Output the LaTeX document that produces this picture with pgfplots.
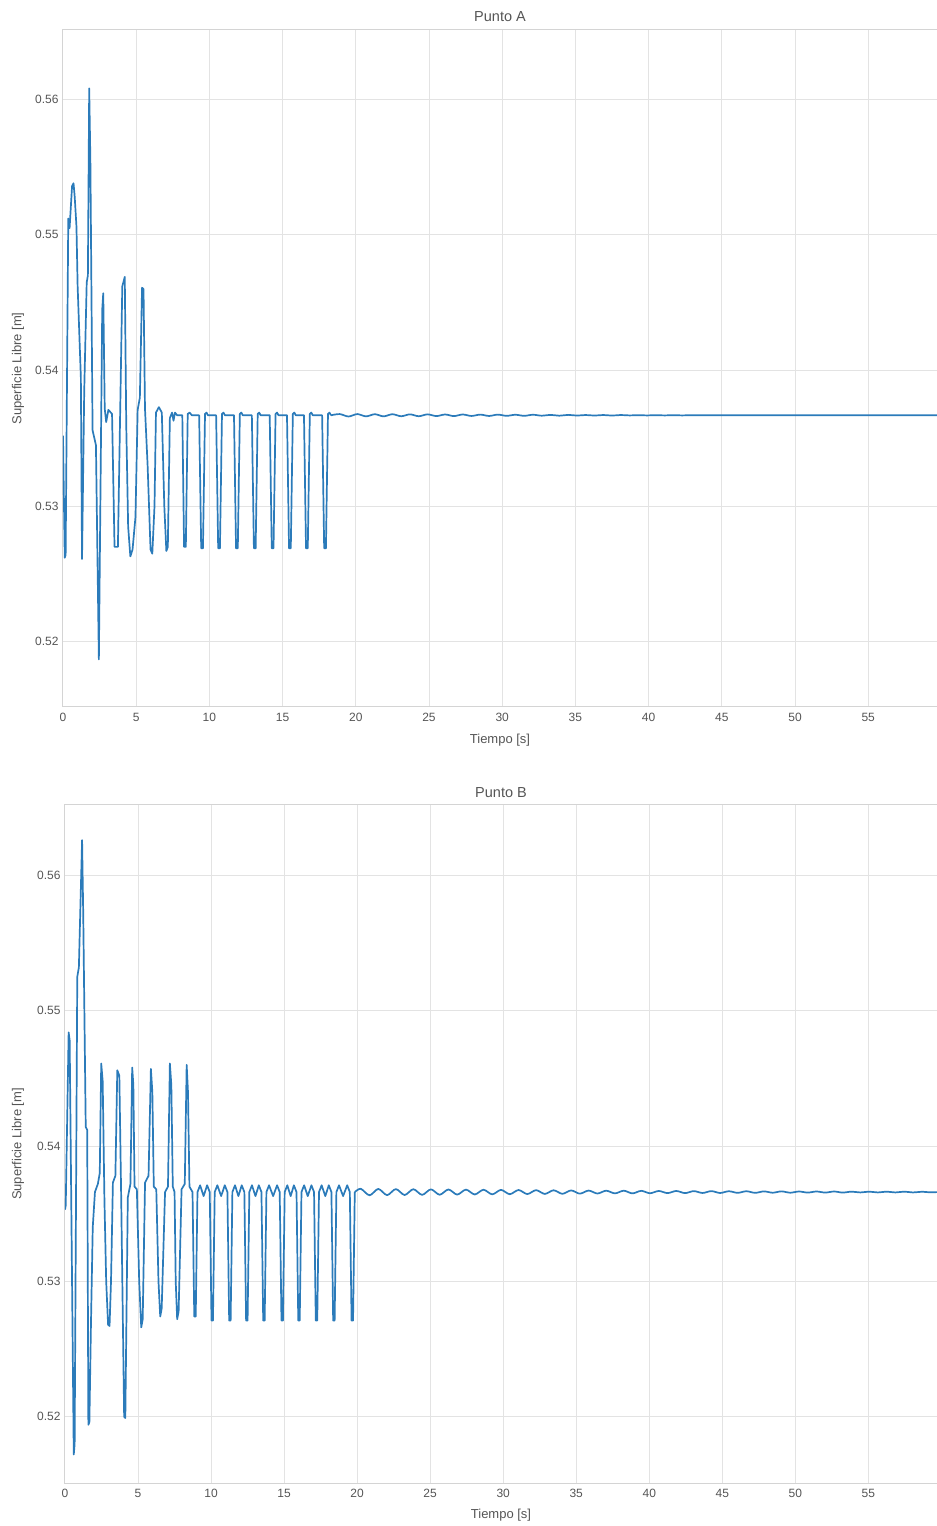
\documentclass[border=0pt]{standalone}
\usepackage{fontspec}
\setmainfont{Liberation Sans}
\usepackage{pgfplots}
\pgfplotsset{compat=1.18}
\definecolor{lineblue}{HTML}{2B7BBA}
\definecolor{gridc}{HTML}{E3E3E3}
\definecolor{spinec}{HTML}{D4D4D4}
\definecolor{txt}{HTML}{555555}
\pgfplotsset{
  myline/.style={draw=lineblue, line width=1.7pt, line join=round, mark=none},
  myax/.style={
    scale only axis, anchor=south west,
    xmin=0, xmax=59.7,
    xtick={0,5,10,15,20,25,30,35,40,45,50,55},
    xticklabels={0,5,10,15,20,25,30,35,40,45,50,55},
    ytick={0.52,0.53,0.54,0.55,0.56},
    yticklabels={0.52,0.53,0.54,0.55,0.56},
    /pgf/number format/assume math mode=true,
    major tick length=0pt,
    grid=major,
    grid style={draw=gridc, line width=1pt},
    axis line style={draw=spinec, line width=1pt},
    tick label style={font=\fontsize{12}{14}\selectfont, text=txt},
    xticklabel style={yshift=-3pt},
    yticklabel style={xshift=-1pt},
  }
}
\begin{document}
\begin{tikzpicture}[x=1pt,y=1pt]
\path[use as bounding box] (0pt,0pt) rectangle (937pt,1526pt);
% ---------------- Punto A ----------------
\begin{axis}[myax, at={(63pt,819pt)}, width=874pt, height=677pt,
  ymin=0.5152, ymax=0.5651,
  title={Punto A}, xlabel={Tiempo [s]}, ylabel={Superficie Libre [m]},
  every axis title/.style={at={(axis description cs:0.5,1)}, anchor=center, yshift=13pt, font=\fontsize{14.5}{17}\selectfont, text=txt},
  every axis x label/.style={at={(axis description cs:0.5,0)}, anchor=center, yshift=-33pt, font=\fontsize{13}{15}\selectfont, text=txt},
  every axis y label/.style={at={(axis description cs:-0.0515,0.5)}, anchor=center, rotate=90, font=\fontsize{13}{15}\selectfont, text=txt},
]
\addplot[myline] coordinates {
(0.00,0.5352)(0.12,0.5262)(0.18,0.5264)(0.36,0.5512)(0.45,0.5505)(0.62,0.5536)(0.72,0.5538)(0.80,0.5528)(0.92,0.5506)(1.00,0.5462)(1.22,0.5395)(1.30,0.5261)(1.45,0.5385)(1.62,0.5465)(1.70,0.5470)(1.79,0.5608)(1.87,0.5555)(2.02,0.5356)(2.25,0.5345)(2.45,0.5187)(2.68,0.5445)(2.75,0.5457)(2.85,0.5372)(2.95,0.5362)(3.10,0.5371)(3.35,0.5368)(3.52,0.5270)(3.75,0.5270)(3.90,0.5366)(4.05,0.5462)(4.22,0.5469)(4.32,0.5360)(4.45,0.5285)(4.60,0.5263)(4.75,0.5268)(4.95,0.5292)(5.10,0.5371)(5.25,0.5380)(5.40,0.5461)(5.50,0.5460)(5.60,0.5372)(5.78,0.5330)(5.98,0.5268)(6.10,0.5265)(6.25,0.5300)(6.35,0.5369)(6.55,0.5373)(6.75,0.5369)(6.92,0.5300)(7.06,0.5267)(7.16,0.5270)(7.30,0.5365)(7.45,0.5369)(7.55,0.5363)(7.65,0.5369)(7.80,0.5367)(8.15,0.5367)(8.27,0.5270)(8.39,0.5270)(8.52,0.5368)(8.65,0.5369)(8.80,0.5367)
(9.30,0.5367)(9.44,0.5269)(9.56,0.5269)(9.70,0.5368)(9.80,0.5369)(9.90,0.5367)
(10.46,0.5367)(10.60,0.5269)(10.72,0.5269)(10.86,0.5368)(10.96,0.5369)(11.06,0.5367)
(11.68,0.5367)(11.82,0.5269)(11.94,0.5269)(12.08,0.5368)(12.18,0.5369)(12.28,0.5367)
(12.90,0.5367)(13.04,0.5269)(13.16,0.5269)(13.30,0.5368)(13.40,0.5369)(13.50,0.5367)
(14.12,0.5367)(14.26,0.5269)(14.38,0.5269)(14.52,0.5368)(14.62,0.5369)(14.72,0.5367)
(15.30,0.5367)(15.44,0.5269)(15.56,0.5269)(15.70,0.5368)(15.80,0.5369)(15.90,0.5367)
(16.46,0.5367)(16.60,0.5269)(16.72,0.5269)(16.86,0.5368)(16.96,0.5369)(17.06,0.5367)
(17.70,0.5367)(17.84,0.5269)(17.96,0.5269)(18.10,0.5368)(18.20,0.5369)(18.30,0.5367)
};
\addplot[myline, smooth] coordinates {
(18.30,0.53670)(18.9,0.53679)(19.5,0.53661)(20.1,0.53679)(20.7,0.53662)(21.3,0.53678)(21.9,0.53662)(22.5,0.53678)(23.1,0.53663)(23.7,0.53677)(24.3,0.53663)(24.9,0.53677)(25.5,0.53664)(26.1,0.53676)(26.7,0.53664)(27.3,0.53676)(27.9,0.53665)(28.5,0.53675)(29.1,0.53665)(29.7,0.53675)(30.3,0.53666)(30.9,0.53674)(31.5,0.53666)(32.1,0.53674)(32.7,0.53667)(33.3,0.53673)(33.9,0.53667)(34.5,0.53673)(35.1,0.53668)(35.7,0.53672)(36.3,0.53668)(36.9,0.53672)(37.5,0.53668)(38.1,0.53672)(38.7,0.53669)(39.3,0.53671)(39.9,0.53669)(40.5,0.53671)(41.1,0.53669)(41.7,0.53671)(42.3,0.53669)(42.9,0.53671)(43.5,0.53670)(50.0,0.53670)(59.8,0.53670)
};
\end{axis}
% ---------------- Punto B ----------------
\begin{axis}[myax, at={(65pt,43pt)}, width=872pt, height=678pt,
  ymin=0.5151, ymax=0.5652,
  title={Punto B}, xlabel={Tiempo [s]}, ylabel={Superficie Libre [m]},
  every axis title/.style={at={(axis description cs:0.5,1)}, anchor=center, yshift=12pt, font=\fontsize{14.5}{17}\selectfont, text=txt},
  every axis x label/.style={at={(axis description cs:0.5,0)}, anchor=center, yshift=-32pt, font=\fontsize{13}{15}\selectfont, text=txt},
  every axis y label/.style={at={(axis description cs:-0.054,0.5)}, anchor=center, rotate=90, font=\fontsize{13}{15}\selectfont, text=txt},
]
\addplot[myline] coordinates {
(0.00,0.5353)(0.05,0.5356)(0.25,0.5484)(0.32,0.5478)(0.60,0.5172)(0.66,0.5180)(0.84,0.5525)(0.95,0.5532)(1.17,0.5626)(1.25,0.5570)(1.42,0.5414)(1.52,0.5412)(1.60,0.5194)(1.67,0.5196)(1.78,0.5270)(1.90,0.5340)(2.05,0.5366)(2.25,0.5372)(2.38,0.5380)(2.48,0.5461)(2.58,0.5448)(2.70,0.5360)(2.82,0.5300)(2.95,0.5268)(3.05,0.5267)(3.15,0.5300)(3.28,0.5373)(3.45,0.5378)(3.58,0.5456)(3.72,0.5452)(3.85,0.5360)(4.05,0.5200)(4.13,0.5199)(4.30,0.5362)(4.48,0.5372)(4.60,0.5458)(4.68,0.5445)(4.76,0.5370)(4.92,0.5368)(5.08,0.5300)(5.22,0.5266)(5.32,0.5272)(5.48,0.5373)(5.72,0.5378)(5.88,0.5457)(5.98,0.5440)(6.08,0.5370)(6.25,0.5368)(6.40,0.5300)(6.52,0.5274)(6.62,0.5280)(6.85,0.5366)(7.05,0.5370)(7.18,0.5461)(7.28,0.5445)(7.38,0.5370)(7.50,0.5366)(7.58,0.5300)(7.68,0.5272)(7.78,0.5278)(7.98,0.5368)(8.20,0.5372)(8.33,0.5460)(8.42,0.5440)(8.52,0.5370)(8.73,0.5366)
(8.85,0.5274)(8.95,0.5274)(9.07,0.5366)(9.25,0.5371)(9.49,0.5363)(9.73,0.5371)(9.91,0.5366)
(10.03,0.5271)(10.13,0.5271)(10.25,0.5366)(10.43,0.5371)(10.69,0.5363)(10.94,0.5371)(11.12,0.5366)
(11.24,0.5271)(11.34,0.5271)(11.46,0.5366)(11.64,0.5371)(11.87,0.5363)(12.10,0.5371)(12.28,0.5366)
(12.40,0.5271)(12.50,0.5271)(12.62,0.5366)(12.80,0.5371)(13.04,0.5363)(13.27,0.5371)(13.45,0.5366)
(13.57,0.5271)(13.67,0.5271)(13.79,0.5366)(13.97,0.5371)(14.25,0.5363)(14.52,0.5371)(14.70,0.5366)
(14.82,0.5271)(14.92,0.5271)(15.04,0.5366)(15.22,0.5371)(15.45,0.5363)(15.67,0.5371)(15.85,0.5366)
(15.97,0.5271)(16.07,0.5271)(16.19,0.5366)(16.37,0.5371)(16.62,0.5363)(16.87,0.5371)(17.05,0.5366)
(17.17,0.5271)(17.27,0.5271)(17.39,0.5366)(17.57,0.5371)(17.82,0.5363)(18.06,0.5371)(18.24,0.5366)
(18.36,0.5271)(18.46,0.5271)(18.58,0.5366)(18.76,0.5371)(19.04,0.5363)(19.32,0.5371)(19.50,0.5366)
(19.62,0.5271)(19.72,0.5271)(19.84,0.5366)
};
\addplot[myline, smooth] coordinates {
(19.84,0.53660)(20.25,0.53684)(20.85,0.53636)(21.45,0.53683)(22.05,0.53637)(22.65,0.53682)(23.25,0.53638)(23.85,0.53681)(24.45,0.53639)(25.05,0.53680)(25.65,0.53640)(26.25,0.53679)(26.85,0.53641)(27.45,0.53678)(28.05,0.53642)(28.65,0.53677)(29.25,0.53643)(29.85,0.53676)(30.45,0.53644)(31.05,0.53675)(31.65,0.53645)(32.25,0.53674)(32.85,0.53646)(33.45,0.53673)(34.05,0.53647)(34.65,0.53672)(35.25,0.53648)(35.85,0.53671)(36.45,0.53649)(37.05,0.53670)(37.65,0.53650)(38.25,0.53670)(38.85,0.53650)(39.45,0.53669)(40.05,0.53651)(40.65,0.53668)(41.25,0.53652)(41.85,0.53668)(42.45,0.53652)(43.05,0.53667)(43.65,0.53653)(44.25,0.53667)(44.85,0.53653)(45.45,0.53666)(46.05,0.53654)(46.65,0.53666)(47.25,0.53654)(47.85,0.53665)(48.45,0.53655)(49.05,0.53665)(49.65,0.53655)(50.25,0.53664)(50.85,0.53656)(51.45,0.53664)(52.05,0.53656)(52.65,0.53664)(53.25,0.53656)(53.85,0.53663)(54.45,0.53657)(55.05,0.53663)(55.65,0.53657)(56.25,0.53663)(56.85,0.53657)(57.45,0.53663)(58.05,0.53657)(58.65,0.53662)(59.25,0.53658)(59.8,0.53660)
};
\end{axis}
\end{tikzpicture}
\end{document}
